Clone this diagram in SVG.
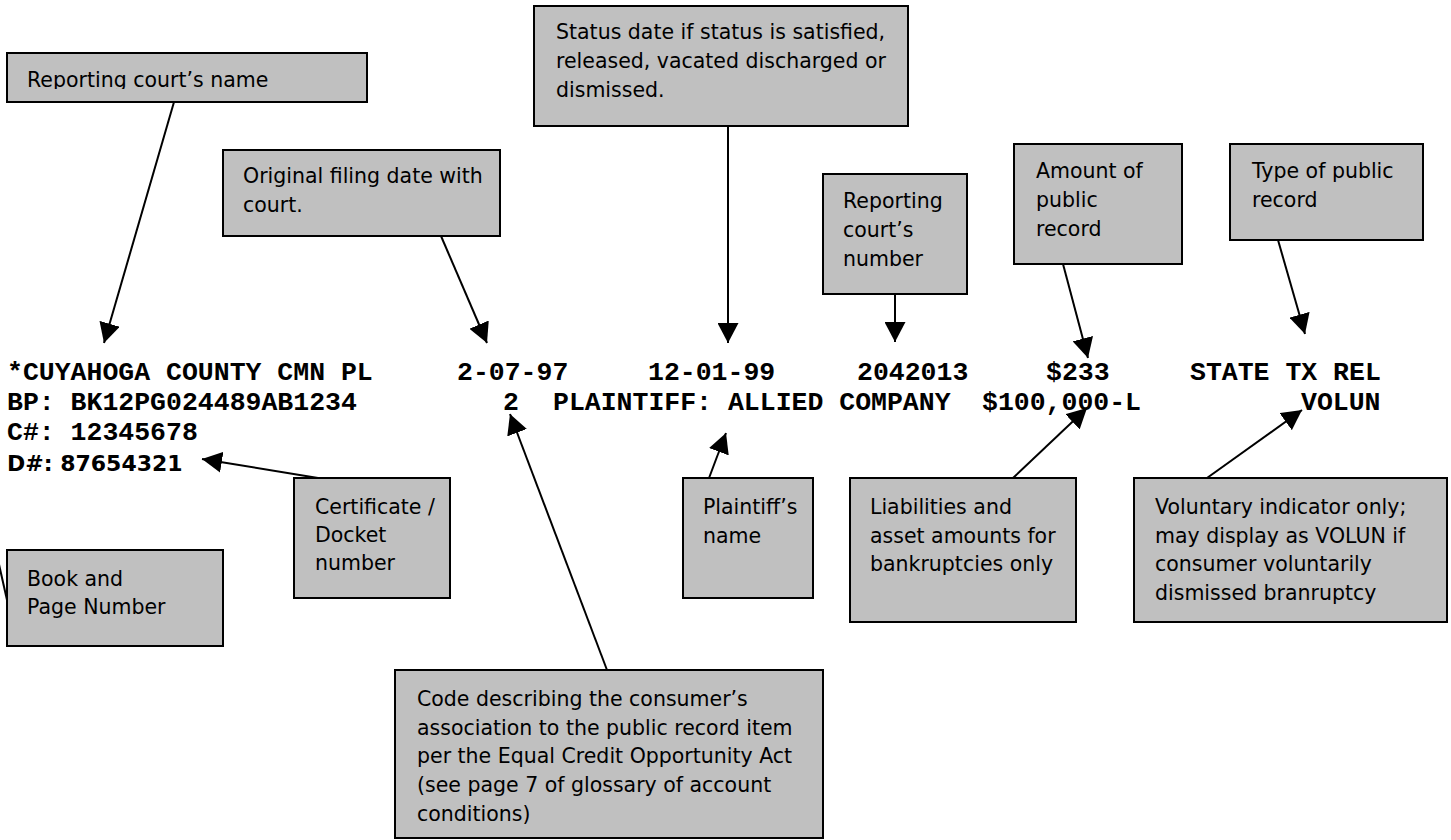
<svg xmlns="http://www.w3.org/2000/svg" width="1451" height="840" viewBox="0 0 1451 840">
<style>
.box{fill:#c0c0c0;stroke:#000;stroke-width:2}
.lbl{font-family:"DejaVu Sans","Noto Sans",sans-serif;font-size:20.5px;fill:#000}
.mono{font-family:"Liberation Mono","Courier New",monospace;font-size:26.5px;font-weight:bold;fill:#000}
.bold{font-family:"DejaVu Sans","Noto Sans",sans-serif;font-size:22px;font-weight:bold;fill:#000}
.conn line{stroke:#000;stroke-width:2;fill:none}
.conn line.a{marker-end:url(#ah)}
</style>
<defs>
<marker id="ah" viewBox="0 0 20 21" refX="20" refY="10.5" markerWidth="20" markerHeight="21" markerUnits="userSpaceOnUse" orient="auto"><path d="M0,0 L20,10.5 L0,21 z" fill="#000"/></marker>
<clipPath id="clip1"><rect x="7" y="53" width="360" height="36"/></clipPath>
</defs>
<rect width="1451" height="840" fill="#fff"/>

<g id="record-text">
<text class="mono" x="7" y="380">*CUYAHOGA COUNTY CMN PL</text>
<text class="mono" x="457" y="380">2-07-97</text>
<text class="mono" x="648" y="380">12-01-99</text>
<text class="mono" x="857" y="380">2042013</text>
<text class="mono" x="1046" y="380">$233</text>
<text class="mono" x="1190" y="380">STATE TX REL</text>
<text class="mono" x="7" y="410">BP: BK12PG024489AB1234</text>
<text class="mono" x="503" y="410">2</text>
<text class="mono" x="553" y="410">PLAINTIFF: ALLIED COMPANY</text>
<text class="mono" x="982" y="410">$100,000-L</text>
<text class="mono" x="1301" y="410">VOLUN</text>
<text class="mono" x="7" y="440">C#: 12345678</text>
<text class="bold" x="7" y="471">D#: 87654321</text>
</g>

<g id="n-court-name">
<rect class="box" x="7" y="53" width="360" height="49"/>
<text class="lbl" x="27" y="87" clip-path="url(#clip1)">Reporting court’s name</text>
</g>
<g id="n-filing-date">
<rect class="box" x="223" y="150" width="277" height="86"/>
<text class="lbl" x="243" y="183">Original filing date with</text>
<text class="lbl" x="243" y="212">court.</text>
</g>
<g id="n-status-date">
<rect class="box" x="534" y="6" width="374" height="120"/>
<text class="lbl" x="556" y="39">Status date if status is satisfied,</text>
<text class="lbl" x="556" y="68">released, vacated discharged or</text>
<text class="lbl" x="556" y="97">dismissed.</text>
</g>
<g id="n-court-number">
<rect class="box" x="823" y="174" width="144" height="120"/>
<text class="lbl" x="843" y="208">Reporting</text>
<text class="lbl" x="843" y="237">court’s</text>
<text class="lbl" x="843" y="266">number</text>
</g>
<g id="n-amount">
<rect class="box" x="1014" y="144" width="168" height="120"/>
<text class="lbl" x="1036" y="178">Amount of</text>
<text class="lbl" x="1036" y="207">public</text>
<text class="lbl" x="1036" y="236">record</text>
</g>
<g id="n-type">
<rect class="box" x="1230" y="144" width="193" height="96"/>
<text class="lbl" x="1252" y="178">Type of public</text>
<text class="lbl" x="1252" y="207">record</text>
</g>
<g id="n-certificate">
<rect class="box" x="294" y="478" width="156" height="120"/>
<text class="lbl" x="315" y="514">Certificate /</text>
<text class="lbl" x="315" y="542">Docket</text>
<text class="lbl" x="315" y="570">number</text>
</g>
<g id="n-book">
<rect class="box" x="7" y="550" width="216" height="96"/>
<text class="lbl" x="27" y="586">Book and</text>
<text class="lbl" x="27" y="614">Page Number</text>
</g>
<g id="n-plaintiff">
<rect class="box" x="683" y="478" width="130" height="120"/>
<text class="lbl" x="703" y="514">Plaintiff’s</text>
<text class="lbl" x="703" y="543">name</text>
</g>
<g id="n-liabilities">
<rect class="box" x="850" y="478" width="226" height="144"/>
<text class="lbl" x="870" y="514">Liabilities and</text>
<text class="lbl" x="870" y="543">asset amounts for</text>
<text class="lbl" x="870" y="571">bankruptcies only</text>
</g>
<g id="n-voluntary">
<rect class="box" x="1134" y="478" width="313" height="144"/>
<text class="lbl" x="1155" y="514">Voluntary indicator only;</text>
<text class="lbl" x="1155" y="543">may display as VOLUN if</text>
<text class="lbl" x="1155" y="571">consumer voluntarily</text>
<text class="lbl" x="1155" y="600">dismissed branruptcy</text>
</g>
<g id="n-code">
<rect class="box" x="395" y="670" width="428" height="168"/>
<text class="lbl" x="417" y="706">Code describing the consumer’s</text>
<text class="lbl" x="417" y="735">association to the public record item</text>
<text class="lbl" x="417" y="763">per the Equal Credit Opportunity Act</text>
<text class="lbl" x="417" y="792">(see page 7 of glossary of account</text>
<text class="lbl" x="417" y="821">conditions)</text>
</g>

<g id="connectors" class="conn">
<line class="a" x1="174" y1="102" x2="104" y2="343"/>
<line class="a" x1="441" y1="236" x2="487" y2="343"/>
<line class="a" x1="728" y1="126" x2="728" y2="343"/>
<line class="a" x1="895" y1="294" x2="895" y2="342"/>
<line class="a" x1="1063" y1="264" x2="1088" y2="358"/>
<line class="a" x1="1278" y1="240" x2="1305" y2="334"/>
<line class="a" x1="318" y1="478" x2="202" y2="459"/>
<line class="a" x1="607" y1="670" x2="510" y2="414"/>
<line class="a" x1="709" y1="478" x2="726" y2="433"/>
<line class="a" x1="1013" y1="478" x2="1087" y2="408"/>
<line class="a" x1="1207" y1="478" x2="1302" y2="410"/>
<line x1="7" y1="600" x2="-2" y2="560"/>
</g>
</svg>
